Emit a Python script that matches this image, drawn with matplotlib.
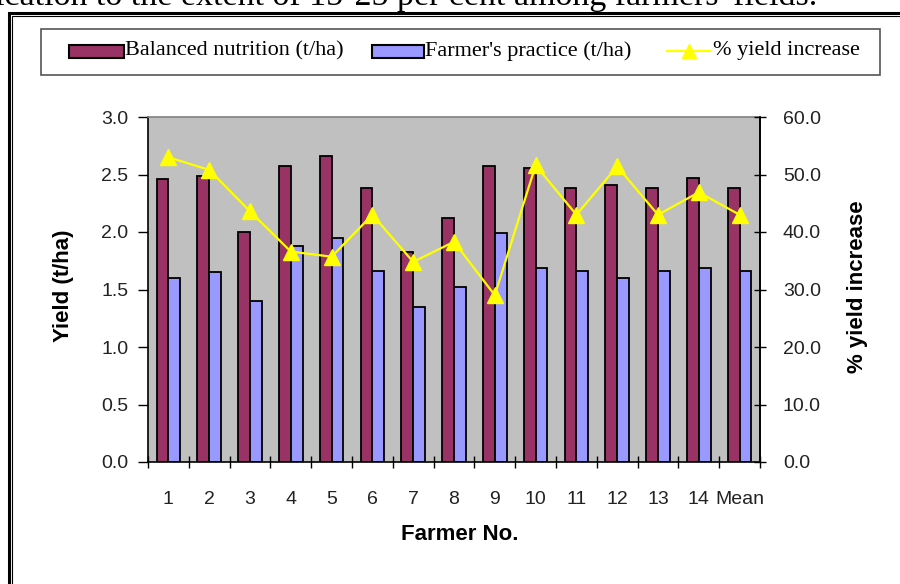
import numpy as np
import matplotlib
matplotlib.use('Agg')
import matplotlib.pyplot as plt
from matplotlib.patches import Rectangle
from matplotlib.ticker import FormatStrFormatter

farmers = ['1', '2', '3', '4', '5', '6', '7', '8', '9', '10', '11', '12', '13', '14', 'Mean']
balanced = [2.46, 2.49, 2.00, 2.57, 2.66, 2.38, 1.83, 2.12, 2.57, 2.56, 2.38, 2.41, 2.38, 2.47, 2.38]
practice = [1.60, 1.65, 1.40, 1.88, 1.95, 1.66, 1.35, 1.52, 1.99, 1.69, 1.66, 1.60, 1.66, 1.69, 1.66]
increase = [53.0, 50.8, 43.6, 36.6, 35.7, 43.0, 34.8, 38.3, 29.0, 51.6, 43.0, 51.4, 43.0, 46.9, 43.0]

BN_COLOR = '#993366'
FP_COLOR = '#9999FF'
LINE_COLOR = '#FFFF00'
SANS = 'Liberation Sans'
SERIF = 'Liberation Serif'

plt.rcParams['font.family'] = SANS

W, H = 900, 584
fig = plt.figure(figsize=(W / 100, H / 100), dpi=100)

# main plot area, in pixel terms: x 148..760, y 117..462
ax = fig.add_axes([148 / W, 1 - 462 / H, 612 / W, 345 / H])
ax.set_facecolor('#C0C0C0')

x = np.arange(len(farmers))
bw = 0.29
ax.bar(x - bw / 2, balanced, bw, color=BN_COLOR, edgecolor='black', linewidth=1.3, zorder=2)
ax.bar(x + bw / 2, practice, bw, color=FP_COLOR, edgecolor='black', linewidth=1.3, zorder=2)

ax.set_xlim(-0.5, len(farmers) - 0.5)
ax.set_ylim(0, 3)
ax.set_yticks(np.arange(0, 3.01, 0.5))
ax.yaxis.set_major_formatter(FormatStrFormatter('%.1f'))
ax.set_xticks(x)
ax.set_xticklabels(farmers)
ax.set_xticks(np.arange(-0.5, len(farmers)), minor=True)
ax.tick_params(axis='x', which='major', length=0, pad=21, labelsize=14, labelcolor='#222222')
ax.tick_params(axis='x', which='minor', direction='inout', length=8, width=1)
ax.tick_params(axis='y', direction='out', length=7, width=1, pad=7, labelsize=14,
               labelcolor='#222222')

for side in ['left', 'bottom', 'right']:
    ax.spines[side].set_color('black')
    ax.spines[side].set_linewidth(1.2)
ax.spines['top'].set_color('#808080')
ax.spines['top'].set_linewidth(1.2)

# % increase on the secondary axis
ax2 = ax.twinx()
ax2.plot(x, increase, color=LINE_COLOR, linewidth=1.6, marker='^', markersize=11.5,
         markeredgecolor=LINE_COLOR, zorder=3)
ax2.set_ylim(0, 60)
ax2.set_yticks(np.arange(0, 61, 10))
ax2.yaxis.set_major_formatter(FormatStrFormatter('%.1f'))
ax2.tick_params(axis='y', direction='inout', length=9, width=1, pad=12, labelsize=14,
                labelcolor='#222222')
for side in ['left', 'bottom', 'top']:
    ax2.spines[side].set_visible(False)
ax2.spines['right'].set_color('black')
ax2.spines['right'].set_linewidth(1.2)

# overlay in pixel units for frame, legend and titles
ov = fig.add_axes([0, 0, 1, 1])
ov.set_xlim(0, W)
ov.set_ylim(H, 0)
ov.axis('off')
ov.patch.set_alpha(0)

ov.text(-5, 5, "ication to the extent of 15-25 per cent among farmers' fields.",
        family=SERIF, fontsize=24.5, ha='left', va='baseline')

# double border
ov.plot([8.7, 8.7, 905], [595, 12.8, 12.8], color='black', lw=2.2, solid_joinstyle='miter')
ov.plot([12.2, 12.2, 905], [595, 16.0, 16.0], color='black', lw=0.8, solid_joinstyle='miter')

# legend
ov.add_patch(Rectangle((40.5, 29.3), 839.5, 45.7, facecolor='white', edgecolor='#555555', lw=1.2))
ov.add_patch(Rectangle((69, 44.5), 55, 13, facecolor=BN_COLOR, edgecolor='black', lw=1.5))
ov.text(125, 51, 'Balanced nutrition (t/ha)', family=SERIF, fontsize=16, ha='left', va='center')
ov.add_patch(Rectangle((372, 44.5), 52, 13, facecolor=FP_COLOR, edgecolor='black', lw=1.5))
ov.text(425, 51, "Farmer's practice (t/ha)", family=SERIF, fontsize=16, ha='left', va='center')
ov.plot([667, 710], [51, 51], color=LINE_COLOR, lw=1.6)
ov.plot([688.5], [51], color=LINE_COLOR, marker='^', markersize=10, markeredgecolor=LINE_COLOR)
ov.text(713, 51, '% yield increase', family=SERIF, fontsize=16, ha='left', va='center')

# axis titles
ov.text(63, 286, 'Yield (t/ha)', fontsize=16, fontweight='bold', rotation=90,
        ha='center', va='center')
ov.text(858, 287, '% yield increase', fontsize=16, fontweight='bold', rotation=90,
        ha='center', va='center')
ov.text(460, 535, 'Farmer No.', fontsize=16, fontweight='bold', ha='center', va='center')

fig.savefig('out.png', dpi=100)
